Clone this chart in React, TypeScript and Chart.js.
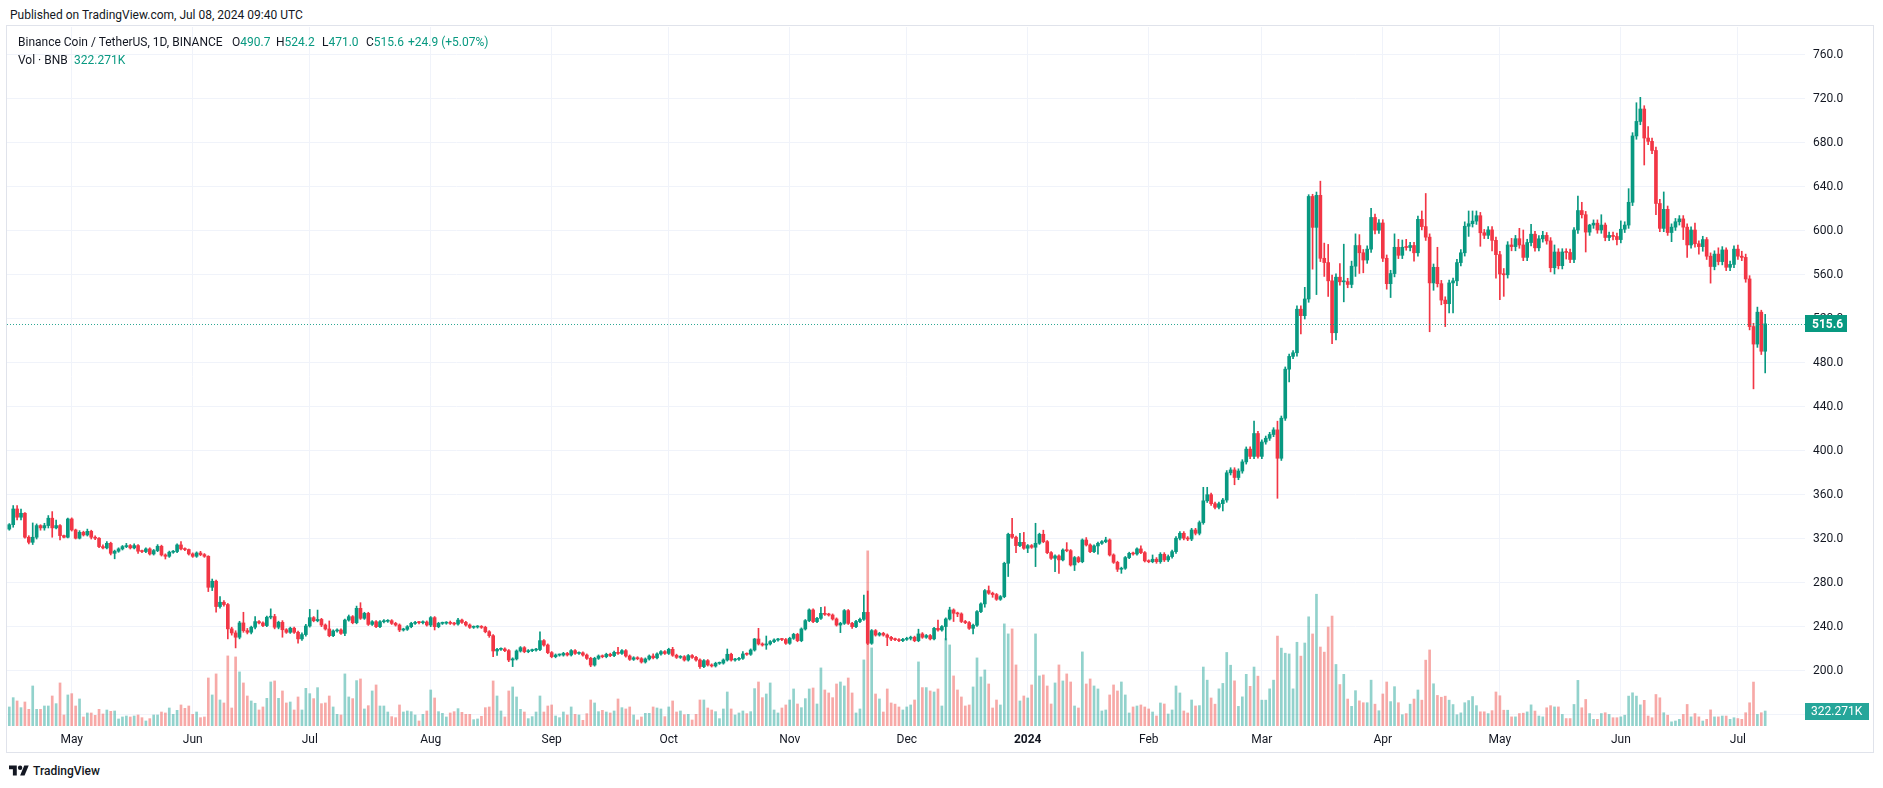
import { useEffect, useRef } from "react";
import { Chart, registerables } from "chart.js";

Chart.register(...registerables);

// Daily candles, index 0 = 2023-04-15 ... index 450 = 2024-07-08
const FIRST_OPEN = 329.0;

const closes = [
  333.0, 347.3, 339.8, 343.4, 321.6, 317.0, 321.6, 332.2, 330.1, 332.2,
  338.9, 330.1, 332.2, 323.1, 321.6, 338.2, 328.2, 320.7, 326.1, 323.7,
  327.0, 321.6, 320.7, 313.1, 311.9, 316.1, 307.0, 308.9, 311.0, 313.1,
  314.0, 311.9, 314.0, 308.9, 308.6, 311.0, 306.4, 309.5, 313.4, 305.5,
  304.3, 308.0, 308.6, 314.6, 311.0, 310.4, 306.4, 304.3, 307.3, 305.8,
  304.3, 276.1, 281.6, 258.6, 262.5, 260.4, 238.3, 234.6, 230.7, 243.7,
  236.7, 235.2, 239.8, 244.9, 243.7, 241.3, 248.9, 249.5, 239.8, 244.3,
  237.5, 235.2, 238.9, 235.2, 229.2, 233.1, 240.9, 248.5, 245.7, 246.9,
  241.8, 238.2, 232.1, 236.4, 237.3, 234.2, 246.3, 249.4, 243.9, 257.0,
  247.9, 252.4, 242.4, 244.8, 240.3, 244.8, 245.2, 245.7, 243.3, 241.8,
  237.3, 237.9, 240.3, 243.3, 244.2, 243.9, 244.5, 241.8, 248.5, 240.3,
  243.3, 243.5, 243.9, 243.3, 242.7, 246.3, 244.2, 241.8, 239.7, 240.0,
  240.3, 239.7, 235.7, 232.1, 218.2, 219.7, 220.0, 218.5, 210.0, 211.0,
  218.2, 221.2, 217.6, 218.5, 219.0, 219.5, 227.6, 223.6, 216.7, 213.0,
  214.5, 214.5, 216.0, 214.6, 218.5, 216.0, 216.5, 214.5, 211.5, 205.4,
  211.5, 213.6, 213.0, 215.2, 214.0, 217.0, 216.0, 218.5, 213.6, 210.6,
  212.0, 211.2, 208.2, 210.9, 213.6, 212.0, 215.5, 217.6, 216.0, 219.7,
  214.3, 212.4, 213.0, 210.0, 214.0, 212.4, 210.0, 204.0, 209.4, 205.5,
  204.6, 207.0, 207.2, 210.0, 215.2, 210.0, 210.6, 211.5, 215.5, 215.2,
  219.1, 229.1, 224.6, 223.6, 224.6, 226.7, 228.2, 228.8, 228.6, 225.2,
  229.7, 233.3, 227.6, 238.2, 245.8, 255.5, 244.9, 247.9, 252.4, 251.5,
  250.9, 247.3, 241.8, 243.3, 254.9, 243.3, 240.3, 245.0, 247.0, 253.3,
  225.2, 236.7, 232.7, 234.2, 232.7, 230.6, 229.0, 228.5, 227.6, 228.8,
  229.7, 230.7, 227.6, 233.7, 230.7, 232.2, 229.2, 238.8, 237.3, 240.4,
  247.3, 255.5, 252.5, 251.9, 245.0, 244.0, 238.8, 241.6, 254.0, 261.0,
  273.1, 270.7, 269.5, 265.2, 267.6, 297.9, 324.3, 321.6, 314.0, 317.0,
  311.6, 314.0, 312.5, 316.1, 324.3, 317.6, 307.6, 302.5, 304.6, 301.0,
  310.0, 309.4, 296.4, 303.1, 299.4, 319.1, 314.6, 308.5, 313.7, 316.1,
  317.6, 319.1, 305.5, 298.8, 292.5, 293.4, 303.1, 307.0, 306.4, 311.0,
  307.6, 300.1, 299.4, 301.6, 299.4, 306.1, 301.0, 304.0, 308.5, 320.7,
  325.2, 320.7, 320.0, 328.2, 325.2, 334.9, 354.7, 360.3, 352.1, 348.8,
  352.1, 355.4, 380.2, 382.8, 375.9, 381.8, 390.1, 401.7, 395.1, 415.9,
  395.1, 408.2, 411.6, 415.0, 419.2, 393.4, 429.8, 474.4, 486.0, 489.3,
  528.9, 523.0, 538.2, 631.4, 603.3, 632.4, 575.2, 571.3, 554.7, 507.5,
  558.0, 553.8, 554.0, 551.4, 568.0, 586.8, 580.2, 573.6, 583.5, 612.3,
  600.7, 607.3, 575.2, 552.1, 561.3, 585.2, 577.9, 585.2, 585.0, 586.8,
  580.2, 610.6, 604.0, 594.4, 552.8, 567.0, 552.1, 537.2, 533.9, 552.8,
  554.7, 571.3, 580.2, 604.3, 606.6, 609.0, 613.9, 598.4, 596.1, 601.0,
  591.5, 578.5, 560.9, 560.2, 587.3, 585.8, 593.0, 587.3, 576.0, 589.5,
  597.1, 584.7, 592.9, 596.0, 591.0, 566.6, 580.9, 568.5, 580.9, 580.5,
  574.1, 600.9, 618.6, 614.8, 599.0, 605.4, 607.1, 600.9, 605.4, 594.1,
  596.0, 595.0, 592.2, 601.6, 605.4, 626.1, 686.4, 699.6, 710.9, 684.5,
  681.5, 673.2, 625.0, 602.4, 619.7, 598.6, 603.5, 608.4, 611.0, 603.5,
  587.3, 600.9, 588.4, 585.8, 592.2, 577.1, 567.7, 579.0, 572.2, 582.8,
  567.0, 569.6, 583.5, 577.1, 576.0, 556.4, 513.1, 497.2, 526.2, 490.7,
  515.6,
];

// wick length above the body (price units)
const upperWicks = [
  1, 3.1, 3.1, 3.9, 0.6, 1.4, 13, 1.5, 0.8, 2.1,
  2.4, 6, 5.1, 0.8, 0.4, 0.8, 1, 0.8, 1.5, 1,
  2, 1, 1.3, 0.5, 1.5, 1.5, 1, 1, 1, 1,
  2, 1, 1.5, 1, 1, 1, 1, 1, 1.5, 1,
  1, 1, 1, 1, 3, 1, 0.5, 1, 1, 1.5,
  1, 0.5, 2, 1, 5.1, 1.5, 1, 1.5, 2, 1.5,
  9.7, 2, 1, 4.6, 1, 1, 1, 7, 2, 1,
  1.5, 1, 1, 1, 1, 1.5, 1.5, 7.5, 1, 8.5,
  1, 1, 7.3, 1, 1, 1, 1, 1.5, 1, 2,
  5.1, 1, 1, 1, 1, 1, 1.5, 1, 1, 1,
  1, 1, 1, 1, 1, 1, 1, 1, 1, 1,
  1, 1, 1, 1.5, 1, 1.5, 1, 1, 1, 1,
  1, 1, 1, 1, 1, 1, 1, 1, 1, 1,
  1, 1, 1, 1, 1, 1, 8.1, 1, 1, 1,
  1, 1, 1, 1, 1, 1, 1, 1, 1, 1,
  1, 1, 1, 1, 1, 1, 4.5, 1, 1, 1,
  1, 1, 1, 1, 1, 2, 1, 1, 1, 1,
  1.8, 1, 1, 1, 1, 1, 1, 1, 1, 1,
  1, 1, 1, 1, 4.8, 1, 1, 1, 2.1, 1,
  1, 0.5, 9.7, 1, 7.2, 1, 1, 1, 1, 1,
  1, 1, 1, 1, 1, 1, 1, 1, 5.5, 6,
  1, 1, 1, 1, 1, 1, 1, 1, 1, 15.8,
  19.4, 1, 1, 1, 1, 1, 1, 1, 1, 1,
  1, 1, 1, 4.3, 1.2, 1, 1, 1, 7.6, 1,
  1, 2.5, 1, 1, 1, 1, 1, 1, 1, 1,
  1, 4.2, 1, 1, 1, 1, 1, 14.5, 1, 8.2,
  9, 1, 1, 18.2, 1, 3.7, 1, 1, 1, 1,
  1, 6.7, 1, 1, 1, 1, 2.2, 1, 1, 1,
  1, 2.5, 1, 1, 1, 1, 1, 1, 1, 1,
  2.7, 1, 1, 3.9, 1.5, 1.5, 1.5, 1.5, 1.5, 1.5,
  1.5, 1.5, 1.5, 1.5, 1.5, 1.5, 12.3, 6.7, 1.5, 1.5,
  1.5, 1.5, 2, 2, 2, 2, 2, 2, 2, 11.2,
  2, 2, 2, 2, 2, 7.9, 2, 2, 2, 2,
  3, 3, 10.6, 1.6, 2, 3, 12.9, 13.8, 16.5, 5.3,
  3, 12.3, 34, 3, 4.6, 10.6, 9.9, 3, 3, 8.2,
  3, 3, 3, 3, 3, 12.2, 7.2, 6.6, 7.2, 3,
  3, 3, 7.6, 30.1, 3, 3, 18.2, 3, 3, 2.6,
  2.4, 3, 3, 4, 11.6, 9.2, 4.3, 3, 3, 3,
  3, 3, 3, 5, 3, 6, 3, 9.4, 13.6, 3,
  9, 2.6, 3, 3.7, 2.6, 3, 6.4, 3, 3, 3,
  3, 2.2, 13.2, 7.5, 3, 0.7, 3, 3, 9.4, 1.9,
  3, 3, 3, 7.6, 3, 12.4, 3, 17, 10.6, 3,
  10.5, 3, 3, 3.8, 15.8, 3, 3, 3, 3, 3,
  3, 3, 6.4, 2.6, 3, 1.9, 3, 3, 5.7, 3,
  1.9, 3, 3, 3.8, 4.5, 3, 3, 3, 4.6, 1.8,
  8.6,
];

// wick length below the body (price units)
const lowerWicks = [
  1, 2.3, 2.5, 2.5, 0.9, 1.5, 2, 1.6, 2.1, 2.1,
  2.2, 8.5, 0.9, 3.9, 0.6, 0.6, 1, 0.7, 0.7, 1,
  1, 1.6, 1.2, 1, 1, 1, 1.5, 5, 1, 1,
  1, 1, 1, 2, 1, 1, 1, 1, 1, 1,
  2.5, 1, 1, 1, 1, 1, 1, 1, 1, 1,
  1, 3.9, 3, 5.2, 1.5, 1.5, 9.1, 2, 9.7, 1.5,
  1.5, 1.5, 1.5, 1.5, 1, 1, 1, 1.5, 1.5, 1.5,
  6.8, 1, 1, 1, 4, 1.5, 1.5, 1, 1, 1,
  1.5, 1, 1, 1, 1, 1, 2, 1, 1, 1,
  1, 1, 1, 1, 1, 1, 1, 1, 1, 1,
  1.5, 1, 1, 1, 1, 1, 1, 1, 1.5, 3,
  1, 1, 1, 1, 1, 1, 1, 1, 1, 1,
  1, 1, 1, 1.5, 5.2, 4, 1, 1, 1.5, 6,
  1, 1, 1, 1, 1, 1, 1, 1, 1, 1,
  1, 1, 1, 1, 1, 1, 1, 1, 1, 1.5,
  1, 1, 1, 1, 1, 1, 1, 1, 1, 1,
  1, 1, 1, 1, 1, 1, 1, 1, 1, 1,
  1, 1, 1, 1, 1, 1, 1, 1.6, 1, 1,
  1, 1, 1, 1, 1, 1, 1, 1, 1, 1,
  1, 1, 1, 1, 3.9, 1, 1, 1, 1, 1,
  1, 1, 1, 1, 1, 1, 1, 1, 1, 1,
  1, 1, 1, 6.9, 1, 1, 1.5, 1, 1, 1,
  1.2, 1, 1, 1, 1, 7.6, 1.5, 1, 1, 1,
  1, 1.5, 1, 1, 1, 1, 1, 1, 1, 1,
  12.2, 1, 7.5, 2.5, 1, 1, 1, 5.1, 1, 1,
  3, 1, 2.5, 1, 1, 1, 12, 1, 6.4, 1,
  1, 4, 1, 17.6, 1, 1, 1, 1, 12.1, 12.2,
  1, 1, 1, 5.1, 1, 1, 1, 1, 1, 7.6,
  1, 1, 1, 1, 2.1, 3.7, 1, 1, 1, 1,
  1, 1, 1, 1, 1.5, 1.5, 1.5, 1.5, 1.5, 1.5,
  1.5, 1.5, 1.5, 1.5, 1.5, 1.5, 1.5, 1.5, 1.5, 1.5,
  1.5, 6.6, 2, 2, 6.6, 2, 2, 2, 2, 2,
  1.7, 2, 2, 2, 2, 36.4, 2, 2, 11.6, 2,
  3, 16.5, 3, 3, 38, 61.1, 3, 12.6, 14.2, 10,
  6.6, 3, 18.2, 3, 3, 9.3, 18.8, 11.6, 3, 3,
  3.3, 3, 3, 5, 12.6, 3, 3, 3, 2.5, 3,
  7.6, 3, 3, 3, 44.4, 6.7, 3, 4.3, 20.8, 8.3,
  27.2, 4.3, 3, 3, 9.2, 3, 3, 12.3, 3, 3,
  9.6, 21.4, 23.3, 19.6, 3, 3.8, 3.8, 3, 3, 3,
  3, 3, 2.7, 3, 3, 3.8, 5.7, 3, 3, 6,
  3, 3, 3, 3, 18.1, 3, 3, 3, 3, 3,
  3, 3, 4.9, 3, 3, 3, 3, 3, 3, 24.5,
  3, 3, 10.2, 3, 3, 2.6, 8.3, 3, 3, 11.3,
  11.3, 3, 3, 6.8, 4.2, 3, 15.1, 3, 3, 3,
  3, 3, 3, 3, 3, 3, 3, 40.7, 3, 3,
  19.7,
];

// volume in thousands of BNB
const volumesK = [
  409, 609, 538, 394, 516, 358, 860, 358, 358, 430,
  430, 645, 480, 925, 237, 667, 695, 430, 581, 194,
  280, 280, 229, 358, 258, 344, 315, 323, 151, 194,
  215, 194, 215, 237, 179, 108, 158, 237, 237, 301,
  280, 387, 251, 337, 452, 380, 430, 251, 301, 179,
  194, 1032, 667, 1119, 559, 495, 1506, 387, 1484, 1162,
  925, 645, 538, 488, 344, 409, 595, 946, 968, 595,
  753, 495, 516, 344, 624, 344, 810, 695, 588, 824,
  480, 495, 645, 409, 251, 237, 1119, 624, 588, 975,
  1011, 366, 437, 753, 882, 430, 430, 301, 201, 179,
  452, 301, 323, 308, 237, 108, 251, 323, 774, 602,
  308, 272, 194, 280, 308, 373, 294, 251, 251, 136,
  151, 208, 394, 409, 968, 645, 323, 194, 753, 839,
  624, 358, 301, 158, 201, 301, 645, 301, 430, 452,
  215, 179, 301, 237, 409, 251, 237, 122, 265, 559,
  495, 308, 337, 301, 280, 323, 581, 394, 366, 409,
  237, 129, 194, 272, 272, 409, 387, 366, 201, 409,
  538, 301, 323, 244, 251, 129, 251, 559, 559, 387,
  344, 308, 158, 366, 731, 366, 237, 280, 323, 265,
  308, 803, 946, 609, 688, 925, 344, 280, 387, 452,
  559, 796, 473, 394, 588, 796, 817, 473, 1248, 774,
  710, 609, 903, 946, 860, 1032, 710, 280, 366, 1420,
  3763, 1678, 688, 581, 301, 796, 495, 470, 409, 344,
  409, 452, 559, 1377, 825, 825, 753, 731, 796, 430,
  1879, 1742, 1076, 774, 624, 430, 452, 839, 1463, 1054,
  1205, 903, 387, 559, 452, 2194, 1979, 2086, 1312, 538,
  645, 602, 882, 1979, 1076, 1097, 860, 473, 925, 1312,
  968, 1119, 946, 430, 387, 1592, 903, 1011, 860, 796,
  323, 344, 667, 882, 753, 946, 667, 280, 409, 430,
  452, 409, 366, 301, 215, 495, 473, 258, 344, 860,
  710, 323, 280, 559, 430, 438, 1267, 985, 602, 469,
  798, 915, 1580, 1306, 970, 422, 626, 1110, 852, 1267,
  1071, 555, 555, 798, 985, 1932, 1673, 1564, 1548, 798,
  1799, 1501, 1783, 2346, 1978, 2831, 1697, 1587, 2127, 2362,
  1322, 891, 1110, 579, 422, 759, 540, 500, 500, 985,
  469, 328, 688, 946, 524, 845, 500, 242, 266, 469,
  579, 774, 555, 1415, 1634, 907, 657, 618, 641, 555,
  461, 242, 282, 500, 547, 633, 438, 305, 305, 266,
  330, 731, 650, 339, 339, 196, 196, 267, 276, 303,
  454, 321, 214, 196, 392, 437, 410, 410, 249, 160,
  160, 463, 980, 392, 570, 267, 143, 143, 267, 285,
  249, 178, 178, 196, 232, 642, 713, 642, 454, 552,
  214, 178, 677, 606, 285, 232, 89, 107, 143, 249,
  463, 196, 267, 196, 107, 143, 347, 196, 196, 214,
  214, 143, 178, 160, 143, 285, 499, 944, 249, 285,
  322.271,
];

const monthTickIndex = [16, 47, 77, 108, 139, 169, 200, 230, 261, 292, 321, 352, 382, 413, 443];
const monthTickLabel = ["May", "Jun", "Jul", "Aug", "Sep", "Oct", "Nov", "Dec", "2024", "Feb", "Mar", "Apr", "May", "Jun", "Jul"];
const priceTicks = [160, 200, 240, 280, 320, 360, 400, 440, 480, 520, 560, 600, 640, 680, 720, 760];

const LAST_PRICE_LABEL = "515.6";
const LAST_VOLUME_LABEL = "322.271K";

const UP = "#089981";
const DOWN = "#F23645";
const VOL_UP = "rgba(38,166,154,0.5)";
const VOL_DOWN = "rgba(239,83,80,0.5)";
const GRID = "#f0f3fa";
const TEXT = "#131722";
const FONT = "Roboto, 'Noto Sans', sans-serif";

const opens = closes.map((c, i) => (i === 0 ? FIRST_OPEN : closes[i - 1]));
const highs = closes.map((c, i) => Math.max(opens[i], c) + upperWicks[i]);
const lows = closes.map((c, i) => Math.min(opens[i], c) - lowerWicks[i]);
const isUp = closes.map((c, i) => c >= opens[i]);

const overlayPlugin = {
  id: "tvOverlay",
  afterDatasetsDraw(chart: any) {
    const { ctx, chartArea, scales } = chart;
    const last = closes.length - 1;
    const y = Math.round(scales.y.getPixelForValue(closes[last])) + 0.5;
    ctx.save();
    ctx.strokeStyle = "rgba(8,153,129,0.85)";
    ctx.lineWidth = 1;
    ctx.setLineDash([1, 2]);
    ctx.beginPath();
    ctx.moveTo(chartArea.left, y);
    ctx.lineTo(chartArea.right, y);
    ctx.stroke();
    ctx.restore();
  },
  afterDraw(chart: any) {
    const { ctx, chartArea, scales } = chart;
    const last = closes.length - 1;
    ctx.save();
    const py = scales.y.getPixelForValue(closes[last]);
    ctx.fillStyle = UP;
    ctx.fillRect(chartArea.right, Math.round(py - 8.5), 42, 17);
    ctx.fillStyle = "#ffffff";
    ctx.font = `bold 12px ${FONT}`;
    ctx.textBaseline = "middle";
    ctx.textAlign = "left";
    ctx.fillText(LAST_PRICE_LABEL, chartArea.right + 7, Math.round(py) + 0.5);
    const vy = scales.yv.getPixelForValue(volumesK[last]);
    ctx.fillStyle = "#26a69a";
    ctx.fillRect(chartArea.right, Math.round(vy - 8.5), 64, 17);
    ctx.fillStyle = "#ffffff";
    ctx.font = `12px ${FONT}`;
    ctx.fillText(LAST_VOLUME_LABEL, chartArea.right + 6, Math.round(vy) + 0.5);
    ctx.restore();
  },
};

function TvLogo() {
  return (
    <svg width="20" height="16" viewBox="0 0 36 28" style={{ display: "block" }}>
      <path d="M14 22H7V11H0V4h14v18z" fill={TEXT} />
      <circle cx="20" cy="8" r="4" fill={TEXT} />
      <path d="M28 22h-8l7.5-18h8L28 22z" fill={TEXT} />
    </svg>
  );
}

export default function App() {
  const canvasRef = useRef<HTMLCanvasElement | null>(null);

  useEffect(() => {
    const canvas = canvasRef.current;
    if (!canvas) return;
    const idx = closes.map((_, i) => i);
    const chart = new Chart(canvas, {
      type: "bar",
      data: {
        datasets: [
          {
            label: "Volume",
            data: idx.map((i) => ({ x: i, y: volumesK[i] })),
            backgroundColor: idx.map((i) => (isUp[i] ? VOL_UP : VOL_DOWN)),
            borderWidth: 0,
            barThickness: 2,
            grouped: false,
            yAxisID: "yv",
            order: 3,
          },
          {
            label: "Wick",
            data: idx.map((i) => ({ x: i, y: [lows[i], highs[i]] })),
            backgroundColor: idx.map((i) => (isUp[i] ? UP : DOWN)),
            borderWidth: 0,
            barThickness: 1,
            grouped: false,
            yAxisID: "y",
            order: 2,
          },
          {
            label: "Body",
            data: idx.map((i) => ({ x: i, y: [opens[i], closes[i]] })),
            backgroundColor: idx.map((i) => (isUp[i] ? UP : DOWN)),
            borderWidth: 0,
            barThickness: 3,
            minBarLength: 1,
            grouped: false,
            yAxisID: "y",
            order: 1,
          },
        ] as any,
      },
      options: {
        responsive: false,
        maintainAspectRatio: false,
        devicePixelRatio: 1,
        animation: false,
        events: [],
        layout: { padding: { top: 1, left: 0, right: 0, bottom: 0 } },
        plugins: { legend: { display: false }, tooltip: { enabled: false } },
        scales: {
          x: {
            type: "linear",
            min: -0.59,
            max: 460.2,
            offset: false,
            grid: { color: GRID, offset: false, drawTicks: false },
            border: { display: false },
            afterBuildTicks: (scale: any) => {
              scale.ticks = monthTickIndex.map((v) => ({ value: v }));
            },
            ticks: {
              autoSkip: false,
              maxRotation: 0,
              minRotation: 0,
              padding: 7,
              color: TEXT,
              font: (ctx: any) => ({
                family: FONT,
                size: 12,
                weight: monthTickLabel[ctx.index] === "2024" ? "bold" : "normal",
              }),
              callback: (value: any) => {
                const k = monthTickIndex.indexOf(Number(value));
                return k >= 0 ? monthTickLabel[k] : "";
              },
            },
            afterFit: (scale: any) => {
              scale.height = 26;
              scale.paddingLeft = 0;
              scale.paddingRight = 0;
            },
          },
          y: {
            type: "linear",
            position: "right",
            min: 150,
            max: 785.45,
            grid: { color: GRID, drawTicks: false },
            border: { display: false },
            afterBuildTicks: (scale: any) => {
              scale.ticks = priceTicks.map((v) => ({ value: v }));
            },
            ticks: {
              padding: 8,
              color: TEXT,
              font: { family: FONT, size: 12 },
              callback: (value: any) => (Number(value) === 160 ? "" : Number(value).toFixed(1)),
            },
            afterFit: (scale: any) => {
              scale.width = 68;
              scale.paddingTop = 0;
              scale.paddingBottom = 0;
            },
          },
          yv: {
            type: "linear",
            display: false,
            min: 0,
            max: 15018,
          },
        } as any,
      },
      plugins: [overlayPlugin],
    });
    return () => chart.destroy();
  }, []);

  const seg = (left: number, top: number, content: any, color = TEXT) => (
    <div
      style={{
        position: "absolute",
        left,
        top,
        fontSize: 12,
        lineHeight: "16px",
        whiteSpace: "pre",
        color,
      }}
    >
      {content}
    </div>
  );

  return (
    <div
      style={{
        position: "fixed",
        left: 0,
        top: 0,
        width: 1883,
        height: 788,
        background: "#ffffff",
        fontFamily: FONT,
        color: TEXT,
        overflow: "hidden",
      }}
    >
      {seg(10, 7, "Published on TradingView.com, Jul 08, 2024 09:40 UTC")}
      <div
        style={{
          position: "absolute",
          left: 6,
          top: 25,
          width: 1866,
          height: 726,
          border: "1px solid #e0e3eb",
        }}
      >
        <canvas ref={canvasRef} width={1866} height={726} style={{ display: "block", width: 1866, height: 726 }} />
      </div>
      {seg(18, 34, "Binance Coin / TetherUS, 1D, BINANCE")}
      {seg(232, 34, <span>O<span style={{ color: UP }}>490.7</span></span>)}
      {seg(276, 34, <span>H<span style={{ color: UP }}>524.2</span></span>)}
      {seg(322, 34, <span>L<span style={{ color: UP }}>471.0</span></span>)}
      {seg(366, 34, <span>C<span style={{ color: UP }}>515.6</span></span>)}
      {seg(408, 34, "+24.9 (+5.07%)", UP)}
      {seg(18, 52, "Vol · BNB")}
      {seg(74, 52, "322.271K", UP)}
      <div style={{ position: "absolute", left: 9, top: 763 }}>
        <TvLogo />
      </div>
      <div
        style={{
          position: "absolute",
          left: 33,
          top: 763,
          fontSize: 12,
          lineHeight: "16px",
          fontWeight: 500,
          color: TEXT,
        }}
      >
        TradingView
      </div>
    </div>
  );
}
